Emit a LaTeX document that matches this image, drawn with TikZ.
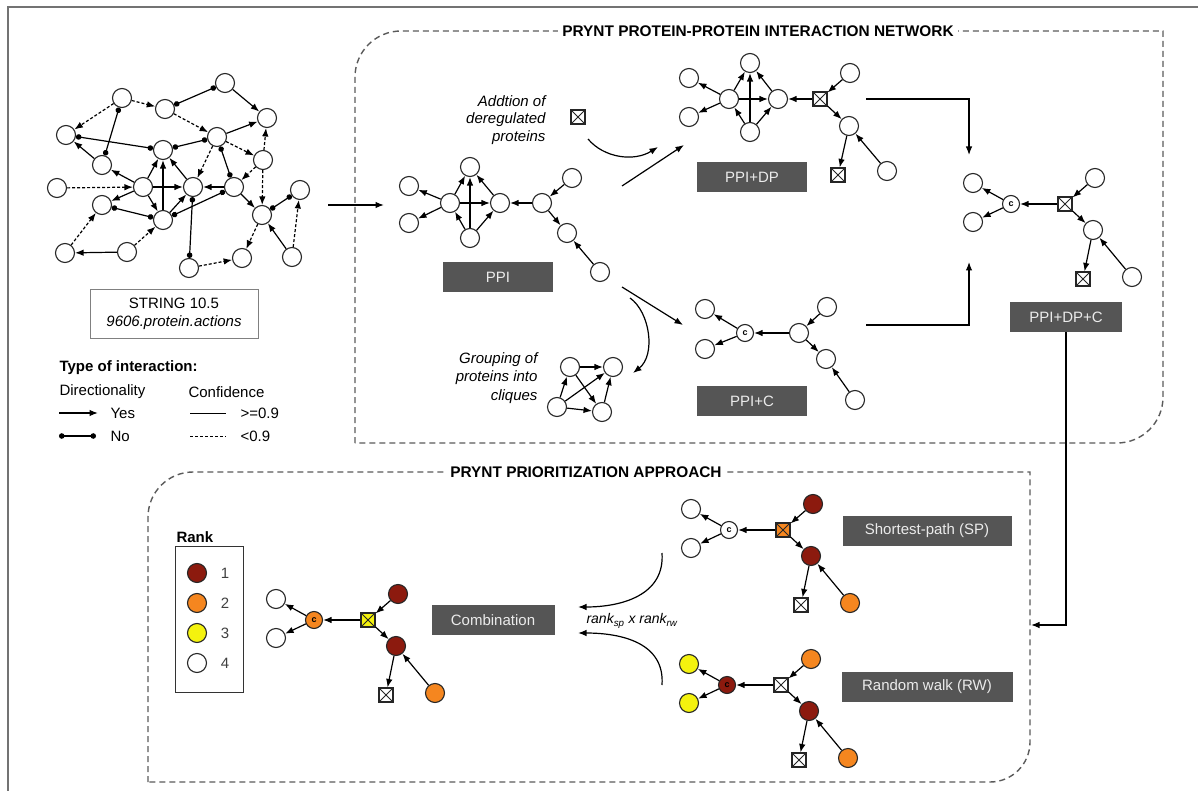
\documentclass[tikz,border=0pt]{standalone}
\usepackage{fontspec}
\setmainfont{Liberation Sans}
\usetikzlibrary{arrows.meta}
\definecolor{boxgray}{HTML}{555555}
\definecolor{panelgray}{HTML}{5A5A5A}
\definecolor{rkone}{HTML}{8C1A0E}
\definecolor{rktwo}{HTML}{F5861F}
\definecolor{rkthree}{HTML}{F4F20E}
\tikzset{
  prot/.style={circle, draw=black!85, fill=white, line width=1.1pt, minimum size=19pt, inner sep=0pt},
  cprot/.style={prot, minimum size=17pt, font=\bfseries\fontsize{9}{9}\selectfont},
  dprot/.style={rectangle, draw=black!85, fill=white, line width=1.1pt, minimum size=14pt, inner sep=0pt,
    path picture={\draw[line width=0.8pt] (path picture bounding box.south west) -- (path picture bounding box.north east)
      (path picture bounding box.north west) -- (path picture bounding box.south east);}},
  stage/.style={fill=boxgray, text=white!92!black, minimum height=30pt, inner sep=0pt},
  dir/.style={-{Latex[length=8.5pt,width=6.5pt]}, line width=1.2pt},
  undir/.style={{Circle[length=5.5pt]}-{Circle[length=5.5pt]}, line width=1.2pt},
  weak/.style={dash pattern=on 3pt off 2pt},
  panel/.style={draw=panelgray, line width=1.4pt, dash pattern=on 6pt off 4pt},
  ttl/.style={fill=white, inner sep=4pt, font=\bfseries\fontsize{15.4}{18}\selectfont}
}
\newcommand{\ranknet}[8]{%
  \node[prot, fill=#2] (#1a) at (-92,-21) {};
  \node[prot, fill=#3] (#1b) at (-92,18) {};
  \node[cprot, fill=#4] (#1c) at (-54,0) {c};
  \node[dprot, fill=#5] (#1d) at (0,0) {};
  \node[prot, fill=#6] (#1e) at (30,-26) {};
  \node[prot, fill=#7] (#1f) at (28,26) {};
  \node[dprot] (#1g) at (18,75) {};
  \node[prot, fill=#8] (#1h) at (67,73) {};
  \draw[dir] (#1c) -- (#1a);
  \draw[dir] (#1c) -- (#1b);
  \draw[dir] (#1d) -- (#1c);
  \draw[dir] (#1e) -- (#1d);
  \draw[dir] (#1d) -- (#1f);
  \draw[dir] (#1f) -- (#1g);
  \draw[dir] (#1h) -- (#1f);
}
\begin{document}
\begin{tikzpicture}[x=1pt, y=-1pt, font=\fontsize{15}{17.5}\selectfont]
\useasboundingbox (0,0) rectangle (1198,791);
\draw[draw=black!55, line width=1.5pt] (8,791) -- (8,7) -- (1198,7);

\draw[panel] (355,443) -- (355,77) .. controls (355,51.6) and (375.6,31) .. (401,31) -- (1163,31)
  -- (1163,397) .. controls (1163,422.4) and (1142.4,443) .. (1117,443) -- cycle;
\draw[panel] (148,782) -- (148,517) .. controls (148,492.2) and (168.2,472) .. (193,472) -- (1030,472)
  -- (1030,742) .. controls (1030,764.1) and (1012.1,782) .. (990,782) -- cycle;
\node[ttl] (toptitle) at (758,31) {PRYNT PROTEIN-PROTEIN INTERACTION NETWORK};
\node[ttl] (bottitle) at (586,472) {PRYNT PRIORITIZATION APPROACH};

\foreach \n/\x/\y in {a/225/83, b/122/98, c/165/109, d/267/118, e/66/135, f/217/137, g/163/150,
  h/102/165, i/263/160, j/57/188, k/143/187, l/193/187, m/234/187, n/300/190, o/102/205,
  p/163/220, q/262/215, r/65/253, s/127/252, t/242/258, u/292/257, v/189/268}
  \node[prot] (s\n) at (\x,\y) {};
\foreach \a/\b in {a/d, f/d, h/e, k/g, k/h, k/l, m/l, p/g, l/g, k/o, k/p, p/l, s/r, u/q, m/q}
  \draw[dir] (s\a) -- (s\b);
\foreach \a/\b in {b/e, b/c, c/f, i/d, f/i, j/k, f/l, i/m, i/q, r/o, s/p, q/t, v/t, u/n}
  \draw[dir, weak] (s\a) -- (s\b);
\foreach \a/\b in {c/a, e/g, b/h, g/f, f/m, p/o, p/m, l/v, q/n}
  \draw[undir] (s\a) -- (s\b);

\node[draw=black!50, line width=1pt, minimum width=168pt, minimum height=48pt, align=center] (string) at (174,314)
  {STRING 10.5\\\textit{9606.protein.actions}};
\node[anchor=west, font=\bfseries\fontsize{15}{17.5}\selectfont] (lgtitle) at (56,368) {Type of interaction:};
\node[anchor=west] (lgdir) at (56,392) {Directionality};
\node[anchor=west] (lgconf) at (185,392) {Confidence};
\node[anchor=west] (lgyes) at (107,413) {Yes};
\node[anchor=west] (lgno) at (107,436) {No};
\node[anchor=west] (lghigh) at (237,413) {>=0.9};
\node[anchor=west] (lglow) at (237,436) {<0.9};
\coordinate (lga) at (59,413);
\coordinate (lgb) at (59,436);
\coordinate (lgc) at (190,413);
\coordinate (lgd) at (190,436);
\draw[dir] (lga) -- ++(39,0);
\draw[undir] (lgb) -- ++(37,0);
\draw[line width=1pt] (lgc) -- ++(36,0);
\draw[line width=1pt, weak] (lgd) -- ++(36,0);

\coordinate (strout) at (328,205);
\coordinate (ppiin) at (384,205);
\draw[dir] (strout) -- (ppiin);

\node[prot] (p1) at (409,186) {};
\node[prot] (p2) at (409,223) {};
\node[prot] (p3) at (450,203) {};
\node[prot] (p4) at (470,167) {};
\node[prot] (p5) at (470,238) {};
\node[prot] (p6) at (500,203) {};
\node[prot] (p7) at (542,203) {};
\node[prot] (p8) at (572,178) {};
\node[prot] (p9) at (567,233) {};
\node[prot] (p10) at (600,272) {};
\foreach \a/\b in {3/1, 3/2, 3/4, 6/4, 5/4, 3/6, 5/3, 5/6, 7/6, 8/7, 7/9, 10/9}
  \draw[dir] (p\a) -- (p\b);
\node[stage, minimum width=110pt] (ppi) at (498,277) {PPI};

\node[anchor=east, align=right, font=\itshape\fontsize{15}{17.5}\selectfont] (addtxt) at (549,120)
  {Addtion of\\deregulated\\proteins};
\node[dprot] (newdp) at (578,117) {};
\coordinate (addout) at (588,139);
\coordinate (addin) at (658,147);
\draw[dir] (addout) .. controls (604,158) and (634,162) .. (addin);
\coordinate (ppiup) at (622,186);
\coordinate (dpin) at (684,145);
\draw[dir] (ppiup) -- (dpin);

\node[prot] (d1) at (689,78) {};
\node[prot] (d2) at (689,117) {};
\node[prot] (d3) at (729,99) {};
\node[prot] (d4) at (750,63) {};
\node[prot] (d5) at (750,132) {};
\node[prot] (d6) at (778,99) {};
\node[dprot] (d7) at (820,99) {};
\node[prot] (d8) at (850,73) {};
\node[prot] (d9) at (849,126) {};
\node[dprot] (d10) at (838,175) {};
\node[prot] (d11) at (887,171) {};
\foreach \a/\b in {3/1, 3/2, 3/4, 6/4, 5/4, 3/6, 5/3, 5/6, 7/6, 8/7, 7/9, 9/10, 11/9}
  \draw[dir] (d\a) -- (d\b);
\node[stage, minimum width=110pt] (ppidp) at (752,177) {PPI+DP};

\coordinate (ppidown) at (622,287);
\coordinate (cin) at (683,325);
\draw[dir] (ppidown) -- (cin);
\coordinate (grpout) at (630,298);
\coordinate (grpin) at (633,373);
\draw[dir] (grpout) .. controls (650,312) and (656,355) .. (grpin);
\node[anchor=east, align=right, font=\itshape\fontsize{15}{18.5}\selectfont] (grptxt) at (541,378)
  {Grouping of\\proteins into\\cliques};
\node[prot] (q1) at (570,367) {};
\node[prot] (q2) at (613,367) {};
\node[prot] (q3) at (557,407) {};
\node[prot] (q4) at (602,412) {};
\foreach \a/\b in {1/2, 3/1, 3/2, 1/4, 3/4, 4/2}
  \draw[dir] (q\a) -- (q\b);

\node[prot] (e1) at (705,309) {};
\node[prot] (e2) at (705,349) {};
\node[cprot] (e3) at (745,333) {c};
\node[prot] (e4) at (799,333) {};
\node[prot] (e5) at (827,307) {};
\node[prot] (e6) at (826,359) {};
\node[prot] (e7) at (855,400) {};
\foreach \a/\b in {3/1, 3/2, 4/3, 5/4, 4/6, 7/6}
  \draw[dir] (e\a) -- (e\b);
\node[stage, minimum width=110pt] (ppic) at (752,401) {PPI+C};

\coordinate (dpout) at (866,99);
\coordinate (dpcin) at (969,155);
\draw[dir] (dpout) -| (dpcin);
\coordinate (cout) at (866,325);
\coordinate (dpcin2) at (969,262);
\draw[dir] (cout) -| (dpcin2);

\begin{scope}[shift={(1065,204)}]
\ranknet{f}{white}{white}{white}{white}{white}{white}{white}
\end{scope}
\node[stage, minimum width=112pt] (dpc) at (1066,317) {PPI+DP+C};
\coordinate (spin) at (1031,625);
\draw[dir] (dpc.south) |- (spin);

\begin{scope}[shift={(783,530)}]
\ranknet{sp}{white}{white}{white}{rktwo}{rkone}{rkone}{rktwo}
\end{scope}
\node[stage, minimum width=169pt] (spbox) at (927,531) {Shortest-path (SP)};

\begin{scope}[shift={(781,685)}]
\ranknet{rw}{rkthree}{rkthree}{rkone}{white}{rktwo}{rkone}{rktwo}
\end{scope}
\node[stage, minimum width=171pt] (rwbox) at (927,687) {Random walk (RW)};

\begin{scope}[shift={(368,620)}]
\ranknet{cb}{white}{white}{rktwo}{rkthree}{rkone}{rkone}{rktwo}
\end{scope}
\node[stage, minimum width=123pt] (comb) at (493,620) {Combination};

\coordinate (spout) at (662,553);
\coordinate (combin) at (578,607);
\draw[dir] (spout) .. controls (665,595) and (622,607) .. (combin);
\coordinate (rwout) at (662,685);
\coordinate (combin2) at (578,633);
\draw[dir] (rwout) .. controls (665,643) and (622,633) .. (combin2);
\node[font=\itshape\fontsize{14}{16}\selectfont] (rankprod) at (632,621) {rank\textsubscript{sp} x rank\textsubscript{rw}};

\node[anchor=west, font=\bfseries\fontsize{15}{17.5}\selectfont] (ranktitle) at (173,537) {Rank};
\draw[line width=1pt, draw=black!80] (175,546) rectangle (243,692);
\node[prot, fill=rkone] (rk1) at (197,573) {};
\node[prot, fill=rktwo] (rk2) at (197,603) {};
\node[prot, fill=rkthree] (rk3) at (197,633) {};
\node[prot] (rk4) at (197,663) {};
\node[text=black!75] (rk1t) at (225,573) {1};
\node[text=black!75] (rk2t) at (225,603) {2};
\node[text=black!75] (rk3t) at (225,633) {3};
\node[text=black!75] (rk4t) at (225,663) {4};
\end{tikzpicture}
\end{document}
